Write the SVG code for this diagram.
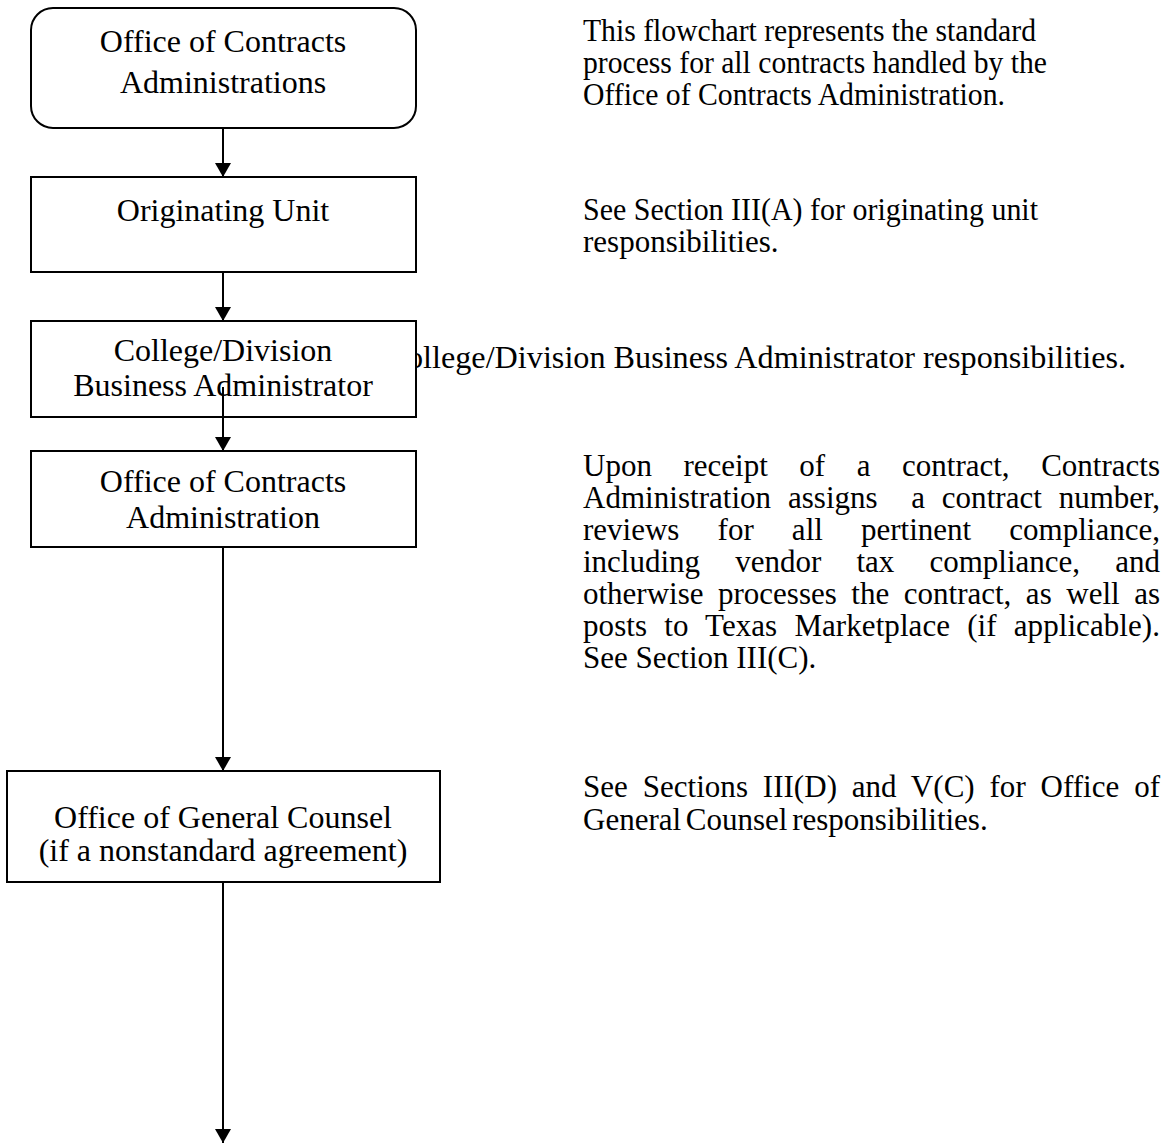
<svg xmlns="http://www.w3.org/2000/svg" width="1165" height="1144" viewBox="0 0 1165 1144">
<style>
text{font-family:"Liberation Serif","Times New Roman",serif;font-size:31px;fill:#000}
.c{text-anchor:middle;font-size:32px}
.box{fill:#fff;stroke:#000;stroke-width:2}
.ln{stroke:#000;stroke-width:2;fill:none;marker-end:url(#ah)}
</style>
<defs>
<marker id="ah" viewBox="0 -8 14 16" refX="14" refY="0" markerWidth="14" markerHeight="16" markerUnits="userSpaceOnUse" orient="auto">
<path d="M0,-8 L14,0 L0,8 z" fill="#000"/>
</marker>
</defs>
<rect width="1165" height="1144" fill="#fff"/>
<g id="descriptions">
<text x="583" y="41" textLength="453" lengthAdjust="spacingAndGlyphs">This flowchart represents the standard</text>
<text x="583" y="73" textLength="464" lengthAdjust="spacingAndGlyphs">process for all contracts handled by the</text>
<text x="583" y="105" textLength="422" lengthAdjust="spacingAndGlyphs">Office of Contracts Administration.</text>
<text x="583" y="220" textLength="455" lengthAdjust="spacingAndGlyphs">See Section III(A) for originating unit</text>
<text x="583" y="252">responsibilities.</text>
<text x="407" y="368" textLength="719" lengthAdjust="spacingAndGlyphs">ollege/Division Business Administrator responsibilities.</text>
<text x="583" y="476" word-spacing="23.8" textLength="577" lengthAdjust="spacing">Upon receipt of a contract, Contracts</text>
<text x="583" y="508" word-spacing="9" textLength="577" lengthAdjust="spacing" xml:space="preserve">Administration assigns  a contract number,</text>
<text x="583" y="540" word-spacing="30.4" textLength="577" lengthAdjust="spacing">reviews for all pertinent compliance,</text>
<text x="583" y="572" word-spacing="27.4" textLength="577" lengthAdjust="spacing">including vendor tax compliance, and</text>
<text x="583" y="604" word-spacing="6.8" textLength="577" lengthAdjust="spacing">otherwise processes the contract, as well as</text>
<text x="583" y="636" word-spacing="9.3" textLength="577" lengthAdjust="spacing">posts to Texas Marketplace (if applicable).</text>
<text x="583" y="668">See Section III(C).</text>
<text x="583" y="797" word-spacing="7" textLength="577" lengthAdjust="spacing">See Sections III(D) and V(C) for Office of</text>
<text x="583" y="830" word-spacing="-3">General Counsel responsibilities.</text>
</g>
<g id="node-oca-top">
<rect class="box" x="31" y="8" width="385" height="120" rx="22"/>
<text class="c" x="223" y="52">Office of Contracts</text>
<text class="c" x="223" y="93">Administrations</text>
</g>
<g id="node-originating">
<rect class="box" x="31" y="177" width="385" height="95"/>
<text class="c" x="223" y="221">Originating Unit</text>
</g>
<g id="node-college">
<rect class="box" x="31" y="321" width="385" height="96"/>
<text class="c" x="223" y="361">College/Division</text>
<text class="c" x="223" y="396">Business Administrator</text>
</g>
<g id="node-oca">
<rect class="box" x="31" y="451" width="385" height="96"/>
<text class="c" x="223" y="492">Office of Contracts</text>
<text class="c" x="223" y="528">Administration</text>
</g>
<g id="node-ogc">
<rect class="box" x="7" y="771" width="433" height="111"/>
<text class="c" x="223" y="828">Office of General Counsel</text>
<text class="c" x="223" y="861">(if a nonstandard agreement)</text>
</g>
<g id="connectors">
<line class="ln" x1="223" y1="128" x2="223" y2="177"/>
<line class="ln" x1="223" y1="272" x2="223" y2="321"/>
<line class="ln" x1="223" y1="387" x2="223" y2="451"/>
<line class="ln" x1="223" y1="547" x2="223" y2="771"/>
<line class="ln" x1="223" y1="882" x2="223" y2="1143"/>
</g>
</svg>
